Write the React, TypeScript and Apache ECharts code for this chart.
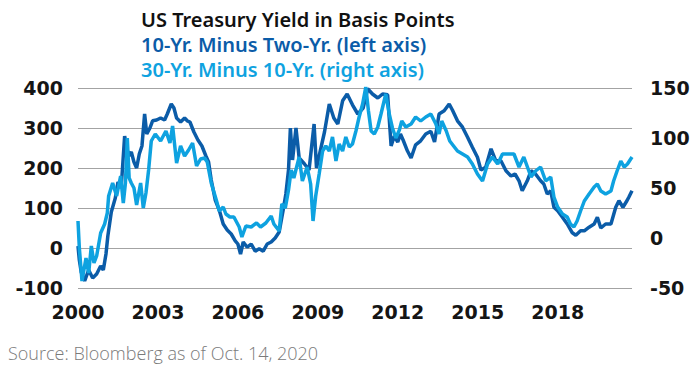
import React, { useEffect, useRef } from "react";
import * as echarts from "echarts";

const titleLines = [
  "US Treasury Yield in Basis Points",
  "10-Yr. Minus Two-Yr. (left axis)",
  "30-Yr. Minus 10-Yr. (right axis)",
];
const sourceText = "Source: Bloomberg as of Oct. 14, 2020";

const xTickStart = 2000;
const xEnd = 2020.79;
const xTickStep = 3;
const leftTicks = [-100, 400, 100];
const rightTicks = [-50, 150, 50];

const spread10y2yYears = [
  2000.0, 2000.05, 2000.12, 2000.25, 2000.4, 2000.55, 2000.7, 2000.85, 2000.95, 2001.05,
  2001.12, 2001.25, 2001.4, 2001.5, 2001.62, 2001.75, 2001.82, 2001.9, 2002.0, 2002.1,
  2002.2, 2002.3, 2002.4, 2002.5, 2002.58, 2002.7, 2002.8, 2002.95, 2003.1, 2003.25,
  2003.35, 2003.5, 2003.6, 2003.7, 2003.85, 2004.0, 2004.1, 2004.2, 2004.35, 2004.5,
  2004.65, 2004.8, 2004.9, 2005.0, 2005.15, 2005.3, 2005.45, 2005.6, 2005.75, 2005.9,
  2006.0, 2006.1, 2006.2, 2006.35, 2006.5, 2006.65, 2006.8, 2006.95, 2007.1, 2007.25,
  2007.4, 2007.55, 2007.7, 2007.8, 2007.9, 2007.97, 2008.05, 2008.18, 2008.3, 2008.5,
  2008.67, 2008.86, 2008.95, 2009.1, 2009.25, 2009.43, 2009.6, 2009.75, 2009.93, 2010.1,
  2010.3, 2010.5, 2010.7, 2010.87, 2011.05, 2011.25, 2011.43, 2011.62, 2011.75, 2011.87,
  2012.0, 2012.1, 2012.2, 2012.36, 2012.5, 2012.67, 2012.86, 2013.05, 2013.24, 2013.38,
  2013.55, 2013.74, 2013.93, 2014.05, 2014.24, 2014.43, 2014.62, 2014.8, 2014.99, 2015.12,
  2015.3, 2015.5, 2015.68, 2015.87, 2016.06, 2016.25, 2016.4, 2016.55, 2016.67, 2016.86,
  2017.0, 2017.17, 2017.36, 2017.48, 2017.61, 2017.74, 2017.86, 2018.0, 2018.18, 2018.36,
  2018.55, 2018.68, 2018.86, 2019.0, 2019.18, 2019.37, 2019.49, 2019.62, 2019.8, 2020.0,
  2020.18, 2020.3, 2020.45, 2020.6, 2020.67, 2020.79,
];
const spread10y2yValues = [
  5, -30, -60, -82, -55, -75, -65, -45, -55, -15,
  30, 90, 125, 165, 150, 280, 255, 230, 240, 215,
  200, 235, 255, 335, 285, 300, 318, 320, 325, 320,
  335, 360, 350, 325, 315, 325, 318, 315, 290, 270,
  255, 230, 215, 170, 120, 95, 60, 45, 35, 18,
  10, -15, 15, 2, 10, -8, -2, -8, 10, 15,
  25, 40, 95, 135, 195, 300, 220, 300, 225, 210,
  195, 310, 200, 245, 290, 360, 325, 310, 368, 385,
  358, 335, 350, 398, 385, 375, 385, 383, 255, 280,
  265, 285, 270, 243, 225, 258, 268, 285, 292, 265,
  335, 343, 360, 345, 318, 302, 277, 252, 227, 195,
  202, 248, 218, 218, 193, 180, 185, 168, 143, 168,
  193, 185, 168, 160, 135, 143, 102, 93, 77, 60,
  38, 32, 43, 43, 52, 60, 77, 50, 60, 60,
  102, 118, 102, 118, 127, 143,
];

const spread30y10yYears = [
  2000.0, 2000.05, 2000.15, 2000.3, 2000.4, 2000.5, 2000.6, 2000.7, 2000.85, 2001.0,
  2001.1, 2001.15, 2001.3, 2001.45, 2001.6, 2001.7, 2001.78, 2001.85, 2001.92, 2002.0,
  2002.1, 2002.2, 2002.35, 2002.45, 2002.55, 2002.65, 2002.75, 2002.9, 2003.1, 2003.3,
  2003.45, 2003.55, 2003.7, 2003.85, 2004.0, 2004.15, 2004.3, 2004.45, 2004.6, 2004.75,
  2004.85, 2005.0, 2005.2, 2005.3, 2005.45, 2005.55, 2005.7, 2005.85, 2006.05, 2006.15,
  2006.3, 2006.5, 2006.7, 2006.85, 2007.05, 2007.25, 2007.35, 2007.55, 2007.65, 2007.78,
  2007.9, 2008.0, 2008.1, 2008.3, 2008.42, 2008.6, 2008.73, 2008.82, 2008.92, 2009.05,
  2009.18, 2009.3, 2009.43, 2009.55, 2009.68, 2009.8, 2009.93, 2010.05, 2010.18, 2010.3,
  2010.43, 2010.55, 2010.68, 2010.8, 2010.9, 2011.0, 2011.12, 2011.25, 2011.37, 2011.55,
  2011.68, 2011.8, 2011.93, 2012.06, 2012.15, 2012.3, 2012.5, 2012.67, 2012.86, 2013.05,
  2013.24, 2013.43, 2013.55, 2013.65, 2013.82, 2013.95, 2014.24, 2014.43, 2014.62, 2014.8,
  2014.99, 2015.18, 2015.37, 2015.55, 2015.75, 2015.93, 2016.17, 2016.36, 2016.55, 2016.73,
  2016.92, 2017.0, 2017.17, 2017.36, 2017.55, 2017.74, 2017.86, 2018.0, 2018.18, 2018.36,
  2018.48, 2018.61, 2018.73, 2018.86, 2019.0, 2019.18, 2019.37, 2019.49, 2019.62, 2019.8,
  2020.0, 2020.1, 2020.23, 2020.37, 2020.5, 2020.62, 2020.79,
];
const spread30y10yValues = [
  17, -10, -43, -20, -35, -8, -25, -18, 5, 14,
  25, 42, 55, 42, 62, 35, 55, 100, 60, 55,
  50, 33, 55, 30, 45, 68, 97, 104, 97, 107,
  95, 112, 75, 92, 82, 88, 95, 72, 79, 80,
  76, 55, 37, 27, 31, 24, 21, 21, 11, 1,
  12, 11, 15, 11, 15, 22, 14, 7, 34, 30,
  48, 68, 60, 81, 57, 71, 54, 17, 42, 64,
  87, 92, 87, 101, 77, 94, 87, 101, 91, 94,
  107, 121, 134, 151, 127, 107, 104, 111, 124, 144,
  124, 110, 100, 108, 117, 111, 114, 121, 117, 121,
  124, 114, 104, 117, 107, 97, 87, 84, 81, 74,
  64, 57, 74, 81, 74, 84, 84, 84, 71, 81,
  67, 61, 67, 71, 57, 61, 41, 31, 24, 21,
  14, 11, 17, 27, 37, 44, 51, 54, 47, 44,
  47, 57, 67, 77, 71, 74, 81,
];

const DARK = "#0b5ca8";
const LIGHT = "#0ea2e0";

export default function App() {
  const ref = useRef<HTMLDivElement>(null);
  useEffect(() => {
    if (!ref.current) return;
    const chart = echarts.init(ref.current, null, { renderer: "svg" });
    const axisFont = {
      color: "#151515",
      fontFamily: "DejaVu Sans",
      fontWeight: "bold" as const,
      fontSize: 19,
    };
    const titleFont = '600 20px "Noto Sans"';
    chart.setOption({
      animation: false,
      backgroundColor: "#ffffff",
      grid: { left: 78, right: 68, top: 88, bottom: 88, containLabel: false },
      xAxis: {
        type: "value",
        min: xTickStart,
        max: xEnd,
        interval: xTickStep,
        axisLine: { show: false },
        axisTick: { show: false },
        splitLine: { show: false },
        axisLabel: {
          ...axisFont,
          margin: 14,
          showMaxLabel: false,
          formatter: (v: number) => String(Math.round(v)),
        },
      },
      yAxis: [
        {
          type: "value",
          min: leftTicks[0],
          max: leftTicks[1],
          interval: leftTicks[2],
          axisLine: { show: false },
          axisTick: { show: false },
          splitLine: { show: true, lineStyle: { color: "#a3a3a3", width: 1 } },
          axisLabel: { ...axisFont, margin: 15 },
        },
        {
          type: "value",
          min: rightTicks[0],
          max: rightTicks[1],
          interval: rightTicks[2],
          position: "right",
          axisLine: { show: false },
          axisTick: { show: false },
          splitLine: { show: false },
          axisLabel: { ...axisFont, margin: 18 },
        },
      ],
      series: [
        {
          type: "line",
          yAxisIndex: 0,
          data: spread10y2yYears.map((y, i) => [y, spread10y2yValues[i]]),
          showSymbol: false,
          lineStyle: { color: DARK, width: 3.5 },
          itemStyle: { color: DARK },
        },
        {
          type: "line",
          yAxisIndex: 1,
          data: spread30y10yYears.map((y, i) => [y, spread30y10yValues[i]]),
          showSymbol: false,
          lineStyle: { color: LIGHT, width: 3.5 },
          itemStyle: { color: LIGHT },
        },
      ],
      graphic: [
        {
          type: "text",
          left: 141,
          top: 9,
          style: { text: titleLines[0], fill: "#111111", font: titleFont },
        },
        {
          type: "text",
          left: 141,
          top: 34,
          style: { text: titleLines[1], fill: DARK, font: titleFont },
        },
        {
          type: "text",
          left: 141,
          top: 59,
          style: { text: titleLines[2], fill: LIGHT, font: titleFont },
        },
        {
          type: "text",
          left: 8,
          top: 344,
          style: {
            text: sourceText,
            fill: "#7a7a7a",
            font: '300 18px "Open Sans"',
          },
        },
      ],
    });
    return () => chart.dispose();
  }, []);
  return (
    <div
      ref={ref}
      style={{ position: "fixed", left: 0, top: 0, width: 700, height: 376 }}
    />
  );
}
